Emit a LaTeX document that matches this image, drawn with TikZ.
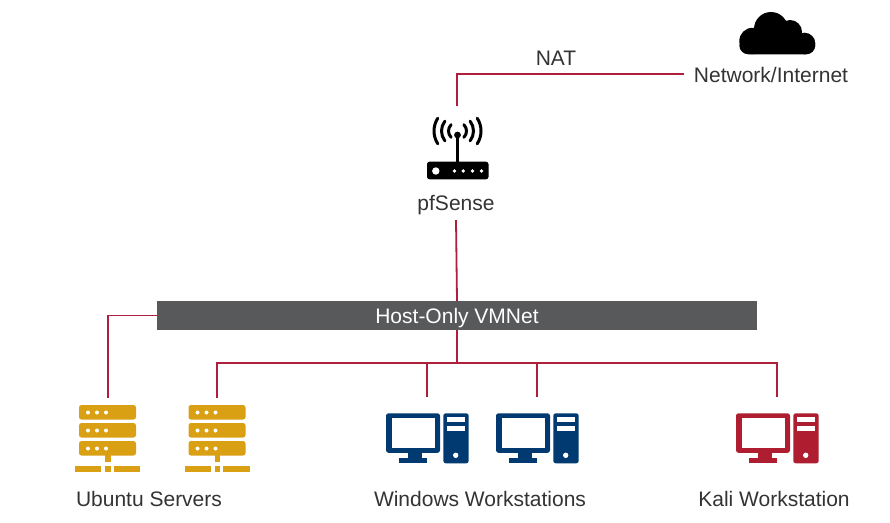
\documentclass[tikz,border=0pt]{standalone}
\usepackage{fontspec}
\setmainfont{Liberation Sans}
\definecolor{linkred}{HTML}{B01E3C}
\definecolor{barGrey}{HTML}{58595B}
\definecolor{inkGrey}{HTML}{333333}
\definecolor{srvGold}{HTML}{DAA014}
\definecolor{winBlue}{HTML}{003A70}
\definecolor{kaliRed}{HTML}{AE1E30}
\tikzset{
  lbl/.style={font=\fontsize{21}{24}\selectfont, text=inkGrey, inner xsep=0pt, inner ysep=0pt, text height=19pt, text depth=3pt},
  link/.style={draw=linkred, line width=1.8pt},
  iconbox/.style={inner sep=0pt, outer sep=0pt, minimum width=#1},
  pics/server/.style={code={
    \foreach \yy in {-28,-10,8}{
      \fill[#1, rounded corners=2.5pt] (-28.5,\yy) rectangle (28.5,\yy+14.5);
      \foreach \xx in {-19.5,-10.5,-1.5}{\fill[white] (\xx,\yy+7.5) circle[radius=2pt];}
    }
    \fill[#1] (-2.5,22) rectangle (3,29);
    \fill[#1] (-32.5,33) rectangle (-6.5,38.5);
    \fill[#1] (-2.5,33) rectangle (3,38.5);
    \fill[#1] (6,33) rectangle (32.5,38.5);
  }},
  pics/computer/.style={code={
    \fill[#1, rounded corners=2.5pt] (-41,-25) rectangle (13,14.5);
    \fill[white] (-35.3,-20) rectangle (8,9.5);
    \fill[#1] (-19,14) rectangle (-5,21);
    \fill[#1] (-27.7,20) rectangle (-0.3,25);
    \fill[#1, rounded corners=2.5pt] (16.3,-25) rectangle (41.7,25);
    \fill[white] (19.7,-21) rectangle (38,-16.3);
    \fill[white] (19.7,-12.3) rectangle (38,-7.3);
    \fill[white] (28.7,17) circle[radius=2.7pt];
  }},
  pics/routericon/.style={code={
    \fill[black, rounded corners=2.5pt] (-30.5,18.7) rectangle (31,36.3);
    \fill[white] (-21.7,28) circle[radius=3.7pt];
    \foreach \xx in {-3,5.7,15,24}{\fill[white] (\xx,28) circle[radius=1.9pt];}
    \fill[black] (-1.3,-8) rectangle (1.3,19);
    \fill[black] (0,-8) circle[radius=3.4pt];
    \begin{scope}[line width=3pt, line cap=round, black]
      \draw ([shift={(147:23.5pt)}]0,-12) arc[start angle=147,end angle=213,radius=23.5pt];
      \draw ([shift={(33:23.5pt)}]0,-12) arc[start angle=33,end angle=-33,radius=23.5pt];
      \draw ([shift={(142:16pt)}]0,-12) arc[start angle=142,end angle=218,radius=16pt];
      \draw ([shift={(38:16pt)}]0,-12) arc[start angle=38,end angle=-38,radius=16pt];
      \draw ([shift={(135:9pt)}]0,-12) arc[start angle=135,end angle=225,radius=9pt];
      \draw ([shift={(45:9pt)}]0,-12) arc[start angle=45,end angle=-45,radius=9pt];
    \end{scope}
  }},
  pics/cloudicon/.style={code={
    \fill[black] (-24.5,0) circle[radius=13.2pt];
    \fill[black] (-6,-12) circle[radius=17pt];
    \fill[black] (13,-9) circle[radius=12pt];
    \fill[black] (27.5,2.5) circle[radius=10.8pt];
    \fill[black, rounded corners=9pt] (-37.7,-4) rectangle (38.3,13.3);
    \fill[black] (-14,-10) rectangle (20,2);
  }},
}
\begin{document}
\begin{tikzpicture}[x=1pt,y=-1pt]
\useasboundingbox (0,0) rectangle (890,522);
% icons
\pic at (777,41) {cloudicon};
\pic at (457.5,143) {routericon};
\pic at (107.5,433) {server=srvGold};
\pic at (217,433) {server=srvGold};
\pic at (427,438.3) {computer=winBlue};
\pic at (537,438.3) {computer=winBlue};
\pic at (777,438.3) {computer=kaliRed};
% named icon extents
\node[iconbox=60pt, minimum height=74pt] (router) at (457,143) {};
\node[iconbox=65pt, minimum height=74pt] (srvA) at (108,435) {};
\node[iconbox=65pt, minimum height=74pt] (srvB) at (217,435) {};
\node[iconbox=82pt, minimum height=68pt] (winA) at (427,431) {};
\node[iconbox=82pt, minimum height=68pt] (winB) at (537,431) {};
\node[iconbox=82pt, minimum height=68pt] (kali) at (777,431) {};
% labels
\node[lbl, inner xsep=10pt] (net) at (771,74.3) {Network/Internet};
\node[lbl] (nat) at (556,57.7) {NAT};
\node[lbl, inner ysep=7pt] (pf) at (456,202) {pfSense};
\node[fill=barGrey, inner sep=0pt, outer sep=0pt, minimum width=600pt, minimum height=29pt] (bar) at (457,315.5) {};
\node[font=\fontsize{21}{24}\selectfont, text=white, inner sep=0pt, text height=19pt, text depth=3pt] (barText) at (457,315) {Host-Only VMNet};
\node[lbl] (ubuntu) at (149,498.7) {Ubuntu Servers};
\node[lbl] (windows) at (480,498.7) {Windows Workstations};
\node[lbl] (kaliText) at (774,498.7) {Kali Workstation};
\coordinate (hub) at (457,363);
% connectors
\draw[link] (router.north) |- (net.west);
\draw[link] (pf.south) -- (bar.north);
\draw[link] (bar.west) -| (srvA.north);
\draw[link] (bar.south) -- (hub);
\draw[link] (hub) -| (srvB.north);
\draw[link] (hub) -| (winA.north);
\draw[link] (hub) -| (winB.north);
\draw[link] (hub) -| (kali.north);
\end{tikzpicture}
\end{document}
